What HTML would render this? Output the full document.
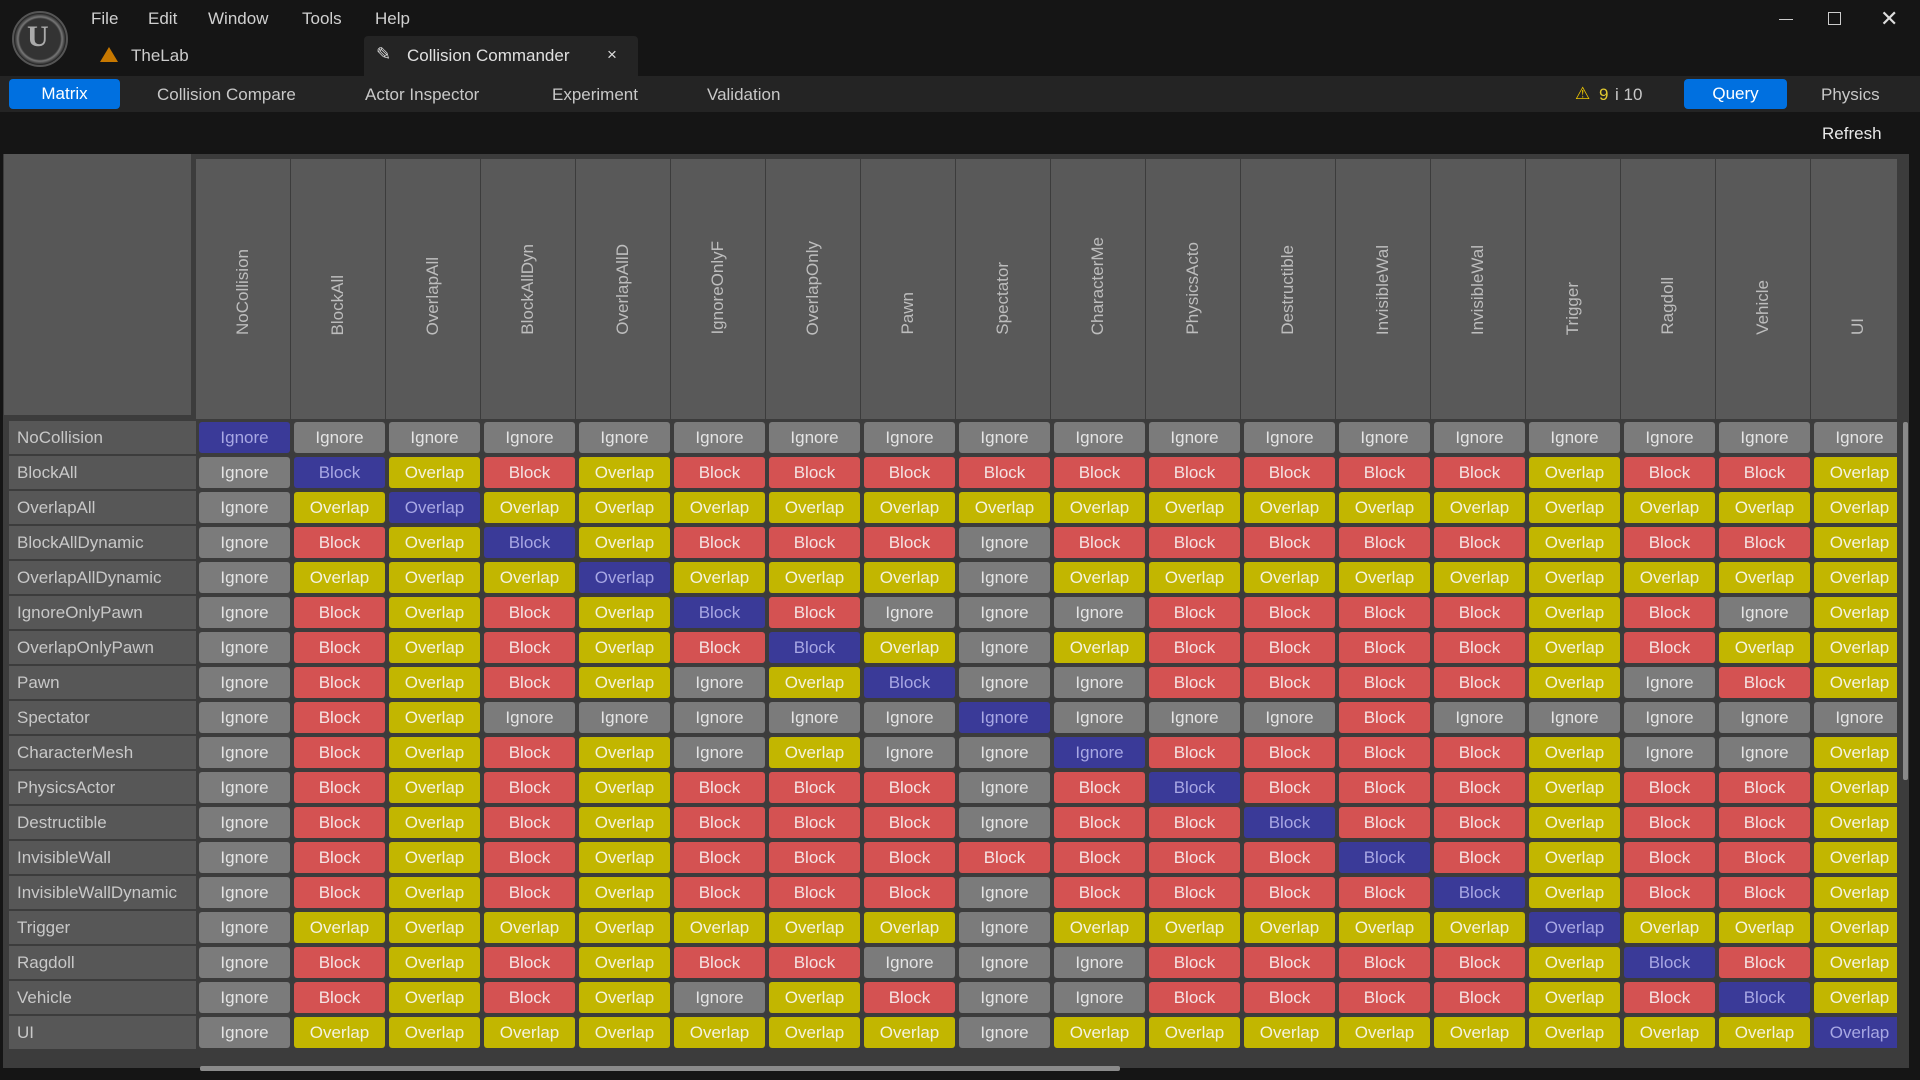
<!DOCTYPE html>
<html><head><meta charset="utf-8"><style>
*{margin:0;padding:0;box-sizing:border-box}
body{width:1920px;height:1080px;background:#151515;font-family:"Liberation Sans",sans-serif;position:relative;overflow:hidden;color:#ccc}
.a{position:absolute;white-space:nowrap}
.menu{top:9px;font-size:17px;color:#d0d0d0}
.tb{top:76px;left:0;width:1920px;height:36px;background:#242424}
.btn{top:79px;height:30px;background:#0070e0;border-radius:4px;color:#fff;font-size:17px;text-align:center;line-height:30px}
.tt{top:85px;font-size:17px;color:#c8c8c8}
#panel{left:3px;top:154px;width:1906px;height:914px;background:#3c3c3c}
.hc{top:159px;height:260px;width:94px;background:#595959;overflow:hidden}
.hc span{position:absolute;left:0;bottom:84px;width:94px;line-height:94px;writing-mode:vertical-rl;transform:rotate(180deg);font-size:17px;color:#bdbdbd;white-space:nowrap}
.rl{left:9px;width:187px;height:33px;background:#575757;font-size:17px;color:#c8c8c8;line-height:33px;padding-left:8px}
#grid{position:absolute;left:199px;top:422px;display:grid;grid-template-columns:repeat(18,91px);grid-auto-rows:31px;gap:4px}
#grid i{font-style:normal;border-radius:3px;text-align:center;line-height:31px;font-size:17px}
.I{background:#7b7b7b;color:#e4e4e4}.B{background:#d45252;color:#f4e4e4}.O{background:#c2b600;color:#f4f2e0}.D{background:#3a3a98;color:#a8a8e4}
#clip{position:absolute;left:0;top:0;width:1897px;height:1080px;overflow:hidden}
</style></head><body>
<div class="a" style="left:12px;top:11px;width:56px;height:56px;border-radius:50%;background:radial-gradient(circle,#333 55%,#777 60%,#222 70%);border:2px solid #555"></div>
<div class="a" style="left:27px;top:20px;font-size:30px;font-weight:bold;color:#aaa;font-family:'Liberation Serif',serif">U</div>
<div class="a menu" style="left:91px">File</div>
<div class="a menu" style="left:148px">Edit</div>
<div class="a menu" style="left:208px">Window</div>
<div class="a menu" style="left:302px">Tools</div>
<div class="a menu" style="left:375px">Help</div>
<div class="a" style="left:1779px;top:19px;width:14px;height:1px;background:#ccc"></div>
<div class="a" style="left:1828px;top:12px;width:13px;height:13px;border:1.5px solid #ccc"></div>
<div class="a" style="left:1880px;top:6px;font-size:22px;color:#ddd">✕</div>
<div class="a" style="left:100px;top:47px;width:0;height:0;border-left:9px solid transparent;border-right:9px solid transparent;border-bottom:15px solid #c77800"></div>
<div class="a" style="left:131px;top:46px;font-size:17px;color:#ccc">TheLab</div>
<div class="a" style="left:364px;top:36px;width:274px;height:40px;background:#242424;border-radius:4px 4px 0 0"></div>
<div class="a" style="left:376px;top:44px;font-size:18px;color:#ddd">✎</div>
<div class="a" style="left:407px;top:46px;font-size:17px;color:#e0e0e0">Collision Commander</div>
<div class="a" style="left:607px;top:45px;font-size:17px;color:#ddd">×</div>
<div class="a tb"></div>
<div class="a btn" style="left:9px;width:111px">Matrix</div>
<div class="a tt" style="left:157px">Collision Compare</div>
<div class="a tt" style="left:365px">Actor Inspector</div>
<div class="a tt" style="left:552px">Experiment</div>
<div class="a tt" style="left:707px">Validation</div>
<div class="a" style="left:1575px;top:84px;font-size:17px;color:#f0c800">⚠</div>
<div class="a tt" style="left:1599px;color:#e0c830">9</div>
<div class="a tt" style="left:1615px">i 10</div>
<div class="a btn" style="left:1684px;width:103px">Query</div>
<div class="a tt" style="left:1821px">Physics</div>
<div class="a" style="left:1822px;top:124px;font-size:17px;color:#e8e8e8">Refresh</div>
<div class="a" id="panel"></div>
<div class="a" style="left:4px;top:154px;width:187px;height:261px;background:#575757"></div>
<div id="clip">
<div class="a hc" style="left:196px"><span>NoCollision</span></div>
<div class="a hc" style="left:291px"><span>BlockAll</span></div>
<div class="a hc" style="left:386px"><span>OverlapAll</span></div>
<div class="a hc" style="left:481px"><span>BlockAllDyn</span></div>
<div class="a hc" style="left:576px"><span>OverlapAllD</span></div>
<div class="a hc" style="left:671px"><span>IgnoreOnlyF</span></div>
<div class="a hc" style="left:766px"><span>OverlapOnly</span></div>
<div class="a hc" style="left:861px"><span>Pawn</span></div>
<div class="a hc" style="left:956px"><span>Spectator</span></div>
<div class="a hc" style="left:1051px"><span>CharacterMe</span></div>
<div class="a hc" style="left:1146px"><span>PhysicsActo</span></div>
<div class="a hc" style="left:1241px"><span>Destructible</span></div>
<div class="a hc" style="left:1336px"><span>InvisibleWal</span></div>
<div class="a hc" style="left:1431px"><span>InvisibleWal</span></div>
<div class="a hc" style="left:1526px"><span>Trigger</span></div>
<div class="a hc" style="left:1621px"><span>Ragdoll</span></div>
<div class="a hc" style="left:1716px"><span>Vehicle</span></div>
<div class="a hc" style="left:1811px"><span>UI</span></div>
<div id="grid">
<i class="D">Ignore</i><i class="I">Ignore</i><i class="I">Ignore</i><i class="I">Ignore</i><i class="I">Ignore</i><i class="I">Ignore</i><i class="I">Ignore</i><i class="I">Ignore</i><i class="I">Ignore</i><i class="I">Ignore</i><i class="I">Ignore</i><i class="I">Ignore</i><i class="I">Ignore</i><i class="I">Ignore</i><i class="I">Ignore</i><i class="I">Ignore</i><i class="I">Ignore</i><i class="I">Ignore</i>
<i class="I">Ignore</i><i class="D">Block</i><i class="O">Overlap</i><i class="B">Block</i><i class="O">Overlap</i><i class="B">Block</i><i class="B">Block</i><i class="B">Block</i><i class="B">Block</i><i class="B">Block</i><i class="B">Block</i><i class="B">Block</i><i class="B">Block</i><i class="B">Block</i><i class="O">Overlap</i><i class="B">Block</i><i class="B">Block</i><i class="O">Overlap</i>
<i class="I">Ignore</i><i class="O">Overlap</i><i class="D">Overlap</i><i class="O">Overlap</i><i class="O">Overlap</i><i class="O">Overlap</i><i class="O">Overlap</i><i class="O">Overlap</i><i class="O">Overlap</i><i class="O">Overlap</i><i class="O">Overlap</i><i class="O">Overlap</i><i class="O">Overlap</i><i class="O">Overlap</i><i class="O">Overlap</i><i class="O">Overlap</i><i class="O">Overlap</i><i class="O">Overlap</i>
<i class="I">Ignore</i><i class="B">Block</i><i class="O">Overlap</i><i class="D">Block</i><i class="O">Overlap</i><i class="B">Block</i><i class="B">Block</i><i class="B">Block</i><i class="I">Ignore</i><i class="B">Block</i><i class="B">Block</i><i class="B">Block</i><i class="B">Block</i><i class="B">Block</i><i class="O">Overlap</i><i class="B">Block</i><i class="B">Block</i><i class="O">Overlap</i>
<i class="I">Ignore</i><i class="O">Overlap</i><i class="O">Overlap</i><i class="O">Overlap</i><i class="D">Overlap</i><i class="O">Overlap</i><i class="O">Overlap</i><i class="O">Overlap</i><i class="I">Ignore</i><i class="O">Overlap</i><i class="O">Overlap</i><i class="O">Overlap</i><i class="O">Overlap</i><i class="O">Overlap</i><i class="O">Overlap</i><i class="O">Overlap</i><i class="O">Overlap</i><i class="O">Overlap</i>
<i class="I">Ignore</i><i class="B">Block</i><i class="O">Overlap</i><i class="B">Block</i><i class="O">Overlap</i><i class="D">Block</i><i class="B">Block</i><i class="I">Ignore</i><i class="I">Ignore</i><i class="I">Ignore</i><i class="B">Block</i><i class="B">Block</i><i class="B">Block</i><i class="B">Block</i><i class="O">Overlap</i><i class="B">Block</i><i class="I">Ignore</i><i class="O">Overlap</i>
<i class="I">Ignore</i><i class="B">Block</i><i class="O">Overlap</i><i class="B">Block</i><i class="O">Overlap</i><i class="B">Block</i><i class="D">Block</i><i class="O">Overlap</i><i class="I">Ignore</i><i class="O">Overlap</i><i class="B">Block</i><i class="B">Block</i><i class="B">Block</i><i class="B">Block</i><i class="O">Overlap</i><i class="B">Block</i><i class="O">Overlap</i><i class="O">Overlap</i>
<i class="I">Ignore</i><i class="B">Block</i><i class="O">Overlap</i><i class="B">Block</i><i class="O">Overlap</i><i class="I">Ignore</i><i class="O">Overlap</i><i class="D">Block</i><i class="I">Ignore</i><i class="I">Ignore</i><i class="B">Block</i><i class="B">Block</i><i class="B">Block</i><i class="B">Block</i><i class="O">Overlap</i><i class="I">Ignore</i><i class="B">Block</i><i class="O">Overlap</i>
<i class="I">Ignore</i><i class="B">Block</i><i class="O">Overlap</i><i class="I">Ignore</i><i class="I">Ignore</i><i class="I">Ignore</i><i class="I">Ignore</i><i class="I">Ignore</i><i class="D">Ignore</i><i class="I">Ignore</i><i class="I">Ignore</i><i class="I">Ignore</i><i class="B">Block</i><i class="I">Ignore</i><i class="I">Ignore</i><i class="I">Ignore</i><i class="I">Ignore</i><i class="I">Ignore</i>
<i class="I">Ignore</i><i class="B">Block</i><i class="O">Overlap</i><i class="B">Block</i><i class="O">Overlap</i><i class="I">Ignore</i><i class="O">Overlap</i><i class="I">Ignore</i><i class="I">Ignore</i><i class="D">Ignore</i><i class="B">Block</i><i class="B">Block</i><i class="B">Block</i><i class="B">Block</i><i class="O">Overlap</i><i class="I">Ignore</i><i class="I">Ignore</i><i class="O">Overlap</i>
<i class="I">Ignore</i><i class="B">Block</i><i class="O">Overlap</i><i class="B">Block</i><i class="O">Overlap</i><i class="B">Block</i><i class="B">Block</i><i class="B">Block</i><i class="I">Ignore</i><i class="B">Block</i><i class="D">Block</i><i class="B">Block</i><i class="B">Block</i><i class="B">Block</i><i class="O">Overlap</i><i class="B">Block</i><i class="B">Block</i><i class="O">Overlap</i>
<i class="I">Ignore</i><i class="B">Block</i><i class="O">Overlap</i><i class="B">Block</i><i class="O">Overlap</i><i class="B">Block</i><i class="B">Block</i><i class="B">Block</i><i class="I">Ignore</i><i class="B">Block</i><i class="B">Block</i><i class="D">Block</i><i class="B">Block</i><i class="B">Block</i><i class="O">Overlap</i><i class="B">Block</i><i class="B">Block</i><i class="O">Overlap</i>
<i class="I">Ignore</i><i class="B">Block</i><i class="O">Overlap</i><i class="B">Block</i><i class="O">Overlap</i><i class="B">Block</i><i class="B">Block</i><i class="B">Block</i><i class="B">Block</i><i class="B">Block</i><i class="B">Block</i><i class="B">Block</i><i class="D">Block</i><i class="B">Block</i><i class="O">Overlap</i><i class="B">Block</i><i class="B">Block</i><i class="O">Overlap</i>
<i class="I">Ignore</i><i class="B">Block</i><i class="O">Overlap</i><i class="B">Block</i><i class="O">Overlap</i><i class="B">Block</i><i class="B">Block</i><i class="B">Block</i><i class="I">Ignore</i><i class="B">Block</i><i class="B">Block</i><i class="B">Block</i><i class="B">Block</i><i class="D">Block</i><i class="O">Overlap</i><i class="B">Block</i><i class="B">Block</i><i class="O">Overlap</i>
<i class="I">Ignore</i><i class="O">Overlap</i><i class="O">Overlap</i><i class="O">Overlap</i><i class="O">Overlap</i><i class="O">Overlap</i><i class="O">Overlap</i><i class="O">Overlap</i><i class="I">Ignore</i><i class="O">Overlap</i><i class="O">Overlap</i><i class="O">Overlap</i><i class="O">Overlap</i><i class="O">Overlap</i><i class="D">Overlap</i><i class="O">Overlap</i><i class="O">Overlap</i><i class="O">Overlap</i>
<i class="I">Ignore</i><i class="B">Block</i><i class="O">Overlap</i><i class="B">Block</i><i class="O">Overlap</i><i class="B">Block</i><i class="B">Block</i><i class="I">Ignore</i><i class="I">Ignore</i><i class="I">Ignore</i><i class="B">Block</i><i class="B">Block</i><i class="B">Block</i><i class="B">Block</i><i class="O">Overlap</i><i class="D">Block</i><i class="B">Block</i><i class="O">Overlap</i>
<i class="I">Ignore</i><i class="B">Block</i><i class="O">Overlap</i><i class="B">Block</i><i class="O">Overlap</i><i class="I">Ignore</i><i class="O">Overlap</i><i class="B">Block</i><i class="I">Ignore</i><i class="I">Ignore</i><i class="B">Block</i><i class="B">Block</i><i class="B">Block</i><i class="B">Block</i><i class="O">Overlap</i><i class="B">Block</i><i class="D">Block</i><i class="O">Overlap</i>
<i class="I">Ignore</i><i class="O">Overlap</i><i class="O">Overlap</i><i class="O">Overlap</i><i class="O">Overlap</i><i class="O">Overlap</i><i class="O">Overlap</i><i class="O">Overlap</i><i class="I">Ignore</i><i class="O">Overlap</i><i class="O">Overlap</i><i class="O">Overlap</i><i class="O">Overlap</i><i class="O">Overlap</i><i class="O">Overlap</i><i class="O">Overlap</i><i class="O">Overlap</i><i class="D">Overlap</i>
</div>
</div>
<div class="a rl" style="top:421px">NoCollision</div>
<div class="a rl" style="top:456px">BlockAll</div>
<div class="a rl" style="top:491px">OverlapAll</div>
<div class="a rl" style="top:526px">BlockAllDynamic</div>
<div class="a rl" style="top:561px">OverlapAllDynamic</div>
<div class="a rl" style="top:596px">IgnoreOnlyPawn</div>
<div class="a rl" style="top:631px">OverlapOnlyPawn</div>
<div class="a rl" style="top:666px">Pawn</div>
<div class="a rl" style="top:701px">Spectator</div>
<div class="a rl" style="top:736px">CharacterMesh</div>
<div class="a rl" style="top:771px">PhysicsActor</div>
<div class="a rl" style="top:806px">Destructible</div>
<div class="a rl" style="top:841px">InvisibleWall</div>
<div class="a rl" style="top:876px">InvisibleWallDynamic</div>
<div class="a rl" style="top:911px">Trigger</div>
<div class="a rl" style="top:946px">Ragdoll</div>
<div class="a rl" style="top:981px">Vehicle</div>
<div class="a rl" style="top:1016px">UI</div>
<div class="a" style="left:1903px;top:422px;width:5px;height:358px;background:#8a8a8a;border-radius:2px"></div>
<div class="a" style="left:200px;top:1066px;width:920px;height:5px;background:#8a8a8a;border-radius:2px"></div>
</body></html>
